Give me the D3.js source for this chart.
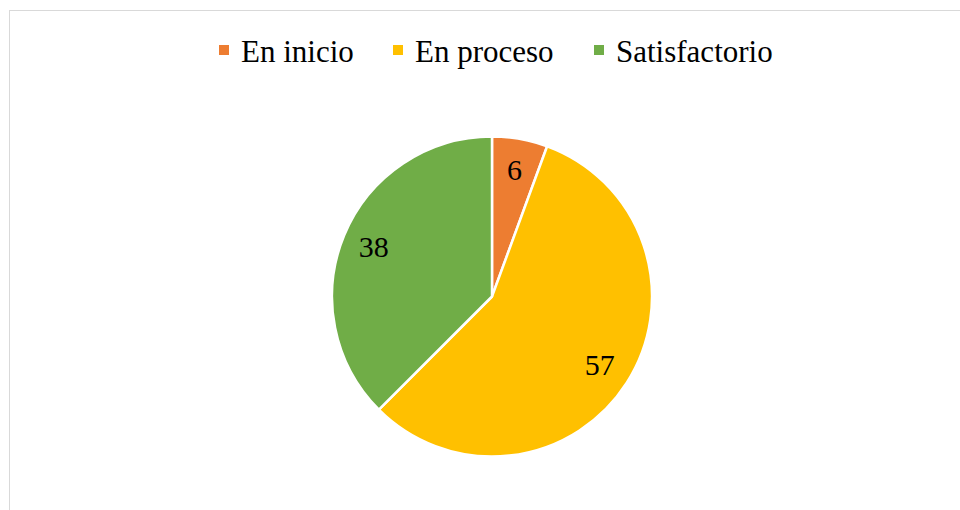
<!DOCTYPE html>
<html>
<head>
<meta charset="utf-8">
<script src="https://cdn.jsdelivr.net/npm/d3@7"></script>
<style>
  html, body { margin: 0; padding: 0; background: #fff; }
  svg { display: block; }
</style>
</head>
<body>
<script>
(function() {
const width = 960;
const height = 510;

// data
const categories = ["En inicio", "En proceso", "Satisfactorio"];
const values = [5.6, 56.9, 37.5];
const colors = ["#ED7D31", "#FFC000", "#70AD47"];

const font = '"Liberation Serif"';

const svg = d3.select("body")
  .append("svg")
  .attr("width", width)
  .attr("height", height);

// chart area border (runs off the right and bottom edges)
svg.append("rect")
  .attr("x", 9.5)
  .attr("y", 10.5)
  .attr("width", width)
  .attr("height", height)
  .attr("fill", "none")
  .attr("stroke", "#d9d9d9")
  .attr("stroke-width", 1);

const data = categories.map((c, i) => ({ name: c, value: values[i], color: colors[i] }));

const pie = d3.pie().sort(null).value((d) => d.value);
const radius = 160;
const arc = d3.arc().innerRadius(0).outerRadius(radius);
const labelArc = d3.arc().innerRadius(radius * 0.8).outerRadius(radius * 0.8);

const g = svg.append("g").attr("transform", "translate(492,296.5)");

const arcs = pie(data);

g.selectAll("path")
  .data(arcs)
  .join("path")
  .attr("d", arc)
  .attr("fill", (d) => d.data.color)
  .attr("stroke", "#fff")
  .attr("stroke-width", 2.5)
  .attr("stroke-linejoin", "round");

g.selectAll(".slice-label")
  .data(arcs)
  .join("text")
  .attr("class", "slice-label")
  .attr("x", (d) => labelArc.centroid(d)[0])
  .attr("y", (d) => labelArc.centroid(d)[1])
  .attr("text-anchor", "middle")
  .attr("dy", "0.33em")
  .attr("font-size", "30px")
  .attr("fill", "#000")
  .style("font-family", font)
  .text((d) => d3.format(".0f")(d.data.value));

// legend
const legend = svg.append("g").attr("transform", "translate(0,62)");
const legendX = [219, 393, 594];

const item = legend.selectAll("g")
  .data(data)
  .join("g")
  .attr("transform", (d, i) => `translate(${legendX[i]},0)`);

item.append("rect")
  .attr("x", 0)
  .attr("y", -17)
  .attr("width", 10)
  .attr("height", 10)
  .attr("fill", (d) => d.color);

item.append("text")
  .attr("x", 22)
  .attr("y", 0)
  .attr("font-size", "31px")
  .attr("fill", "#000")
  .style("font-family", font)
  .text((d) => d.name);
}());
</script>
</body>
</html>
